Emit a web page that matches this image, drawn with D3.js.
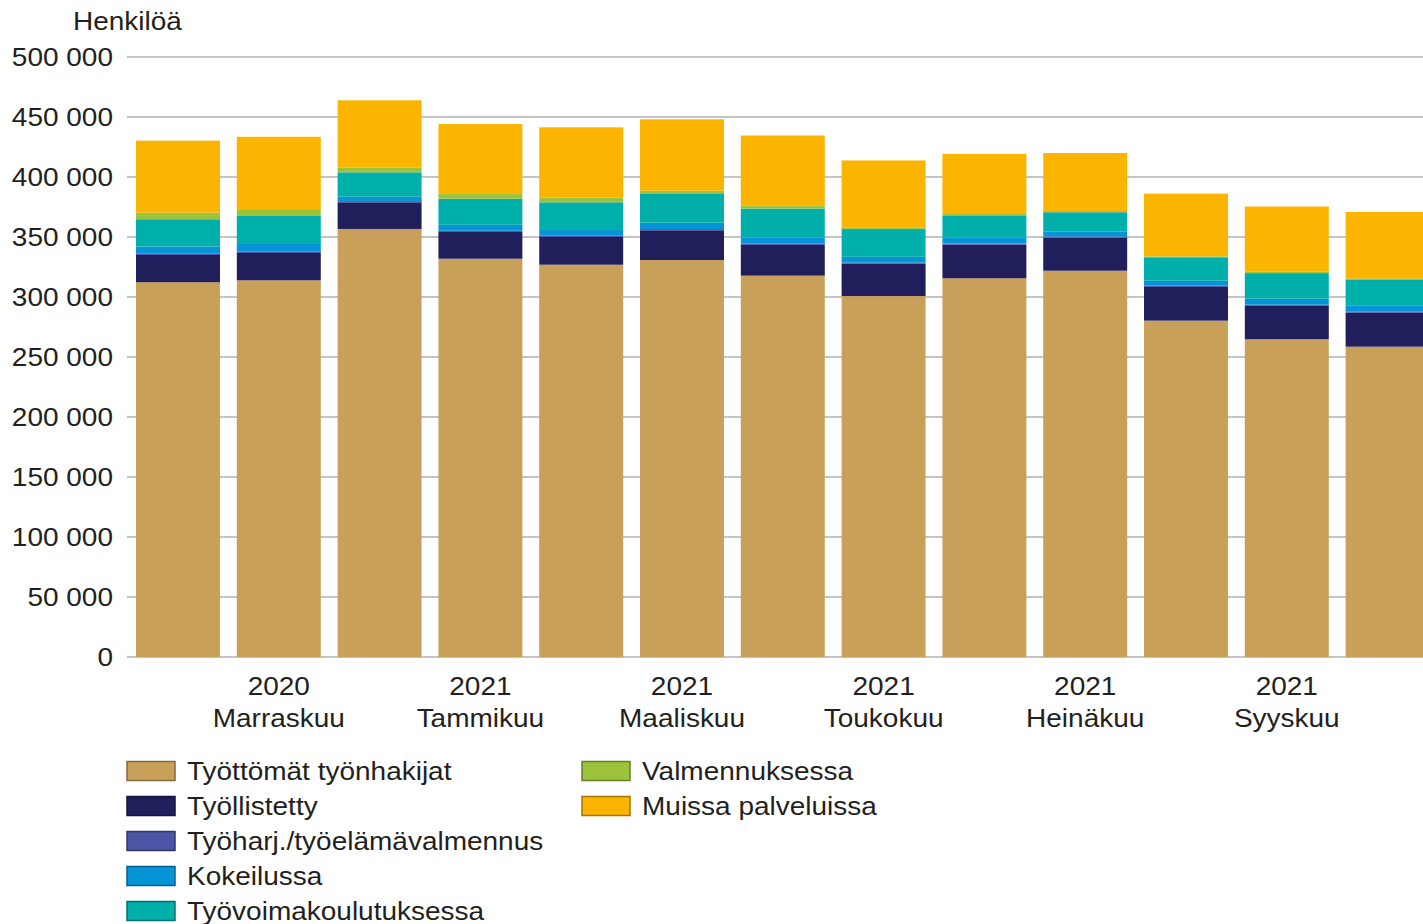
<!DOCTYPE html>
<html><head><meta charset="utf-8">
<script src="https://cdn.jsdelivr.net/npm/d3@7"></script>
<style>body{margin:0;background:#fff;overflow:hidden}svg{display:block}text{font-family:"Liberation Sans",Arial,sans-serif;fill:#231f20}</style>
</head><body><svg id="c" width="1423" height="924"></svg>
<script>
const months = ["Lokakuu","Marraskuu","Joulukuu","Tammikuu","Helmikuu","Maaliskuu","Huhtikuu","Toukokuu","Kesäkuu","Heinäkuu","Elokuu","Syyskuu","Lokakuu"];
const years  = ["2020","2020","2020","2021","2021","2021","2021","2021","2021","2021","2021","2021","2021"];
const seriesNames = ["Työttömät työnhakijat","Työllistetty","Työharj./työelämävalmennus","Kokeilussa","Työvoimakoulutuksessa","Valmennuksessa","Muissa palveluissa"];
const tyottomat  = [312.3,313.9,356.7,331.9,326.9,330.8,317.8,300.8,315.6,321.9,280.3,264.8,258.6];
const tyollistetty=[22.7,22.8,22.2,22.3,23.1,24.8,25.6,26.9,28.0,27.5,28.1,27.8,28.3];
const tyoharj    = [1.0,1.0,1.0,1.0,1.0,1.0,1.0,1.0,1.0,1.0,1.0,1.0,1.0];
const kokeilussa = [6.0,6.5,3.7,5.0,4.8,5.3,5.1,4.8,4.8,4.0,4.2,5.1,5.2];
const tyovoima   = [22.8,23.3,20.3,21.7,23.1,24.5,24.2,23.1,18.1,16.2,19.5,21.2,21.1];
const valmennus  = [5.5,5.0,3.8,3.9,3.8,2.2,2.3,1.4,1.7,1.1,0.8,1.1,1.1];
const muissa     = [60.0,61.0,56.2,58.3,58.7,59.5,58.6,55.8,50.0,48.3,52.2,54.4,55.6];
const colors = ["#C9A05A","#201F5C","#4B54A5","#0594D8","#00AFAA","#9DC33D","#FBB500"];
const yTicks = [0,50000,100000,150000,200000,250000,300000,350000,400000,450000,500000];

const seriesVals = [tyottomat,tyollistetty,tyoharj,kokeilussa,tyovoima,valmennus,muissa];
const keys = seriesNames;
const rows = months.map((m,i)=>{const o={idx:i}; keys.forEach((k,j)=>o[k]=seriesVals[j][i]*1000); return o;});
const stack = d3.stack().keys(keys)(rows);

const svg = d3.select("#c");
const x = d3.scaleBand().domain(d3.range(months.length)).range([127.6,1438]).paddingInner(0.167).paddingOuter(0.0835);
const y = d3.scaleLinear().domain([0,500000]).range([657,57]);
const fmt = v => d3.format(",")(v).replace(/,/g," ");
const FS = 25, SX = 1.12;
const tr = (a,b) => `translate(${a},${b}) scale(${SX},1)`;

// grid
svg.append("g").selectAll("line").data(yTicks).join("line")
  .attr("x1",127).attr("x2",1423).attr("y1",d=>y(d)).attr("y2",d=>y(d))
  .attr("stroke","#c4c4c4").attr("stroke-width",2);
svg.append("g").selectAll("text").data(yTicks).join("text")
  .attr("transform",d=>tr(113,y(d))).attr("dy","0.36em").attr("text-anchor","end")
  .attr("font-size",FS).text(fmt);
svg.append("text").attr("transform",tr(73,30)).attr("font-size",FS).text("Henkilöä");

// bars
svg.append("g").selectAll("g").data(stack).join("g").attr("fill",(d,i)=>colors[i])
  .selectAll("rect").data(d=>d).join("rect")
  .attr("x",d=>x(d.data.idx)).attr("width",x.bandwidth())
  .attr("y",d=>y(d[1])).attr("height",d=>Math.max(0,y(d[0])-y(d[1])));

// x labels
const lab = svg.append("g").selectAll("g").data(d3.range(months.length).filter(i=>i%2===1)).join("g")
  .attr("transform",i=>`translate(${x(i)+x.bandwidth()/2},0)`);
lab.append("text").attr("transform",tr(0,695)).attr("text-anchor","middle").attr("font-size",FS).text(i=>years[i]);
lab.append("text").attr("transform",tr(0,727)).attr("text-anchor","middle").attr("font-size",FS).text(i=>months[i]);

// legend
const leg = svg.append("g").selectAll("g").data(seriesNames).join("g")
  .attr("transform",(d,i)=> i<5 ? `translate(127,${771+i*35})` : `translate(582,${771+(i-5)*35})`);
leg.append("rect").attr("x",0).attr("y",-9.5).attr("width",48).attr("height",19)
  .attr("fill",(d,i)=>colors[i]).attr("stroke",(d,i)=>d3.color(colors[i]).darker(1.2)).attr("stroke-width",1.5);
leg.append("text").attr("transform",tr(60,0)).attr("dy","0.36em").attr("font-size",FS).text(d=>d);
</script></body></html>
